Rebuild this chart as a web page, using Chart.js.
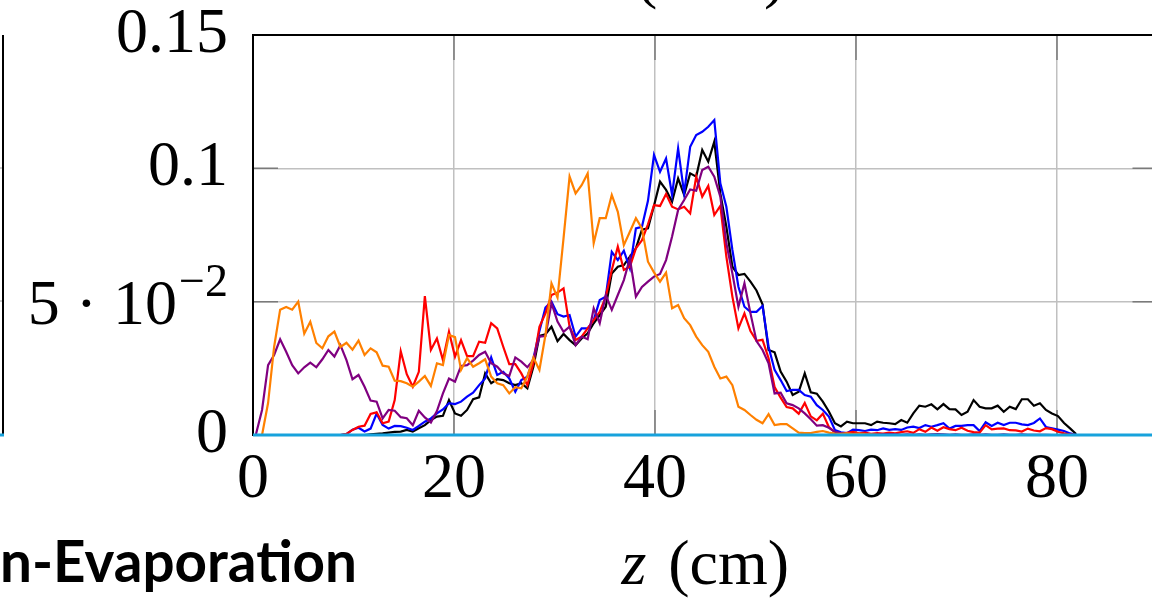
<!DOCTYPE html>
<html>
<head>
<meta charset="utf-8">
<title>z (cm)</title>
<script src="https://cdn.jsdelivr.net/npm/chart.js@4.4.1/dist/chart.umd.min.js"></script>
<style>
  html, body { margin: 0; padding: 0; background: #fff; overflow: hidden; }
  #wrap { position: absolute; left: 0; top: 0; width: 1170px; height: 606px; }
</style>
</head>
<body>
<div id="wrap"><canvas id="chart" width="1170" height="606"></canvas></div>
<script>
// z positions (cm)
const zGrid = [
  0.3, 0.9, 1.5, 2.1, 2.7, 3.3, 3.9, 4.5, 5.1, 5.7,
  6.3, 6.9, 7.5, 8.1, 8.7, 9.3, 9.9, 10.5, 11.1, 11.7,
  12.3, 12.9, 13.5, 14.1, 14.7, 15.3, 15.9, 16.5, 17.1, 17.7,
  18.3, 18.9, 19.5, 20.1, 20.7, 21.3, 21.9, 22.5, 23.1, 23.7,
  24.3, 24.9, 25.5, 26.1, 26.7, 27.3, 27.9, 28.5, 29.1, 29.7,
  30.3, 30.9, 31.5, 32.1, 32.7, 33.3, 33.9, 34.5, 35.1, 35.7,
  36.3, 36.9, 37.5, 38.1, 38.7, 39.3, 39.9, 40.5, 41.1, 41.7,
  42.3, 42.9, 43.5, 44.1, 44.7, 45.3, 45.9, 46.5, 47.1, 47.7,
  48.3, 48.9, 49.5, 50.1, 50.7, 51.3, 51.9, 52.5, 53.1, 53.7,
  54.3, 54.9, 55.5, 56.1, 56.7, 57.3, 57.9, 58.5, 59.1, 59.7,
  60.3, 60.9, 61.5, 62.1, 62.7, 63.3, 63.9, 64.5, 65.1, 65.7,
  66.3, 66.9, 67.5, 68.1, 68.7, 69.3, 69.9, 70.5, 71.1, 71.7,
  72.3, 72.9, 73.5, 74.1, 74.7, 75.3, 75.9, 76.5, 77.1, 77.7,
  78.3, 78.9, 79.5, 80.1, 80.7, 81.3, 81.9
];

const blackVals = [
  0, 0, 0, 0, 0, 0, 0, 0, 0, 0,
  0, 0, 0, 0, 0, 0, 0, 0, 0, 0.0002,
  0.0004, 0.0006, 0.0009, 0.0012, 0.0013, 0.0019, 0.0013, 0.0025, 0.0037, 0.0056,
  0.0069, 0.0072, 0.0131, 0.0081, 0.0072, 0.0094, 0.0134, 0.0141, 0.0231, 0.0194,
  0.0209, 0.0206, 0.0194, 0.0187, 0.0194, 0.0175, 0.0256, 0.0372, 0.0378, 0.0406,
  0.0352, 0.0379, 0.0356, 0.0337, 0.0362, 0.0381, 0.0419, 0.045, 0.0481, 0.0606,
  0.0631, 0.0637, 0.0669, 0.07, 0.077, 0.0775, 0.086, 0.095, 0.0919, 0.0875,
  0.0962, 0.09, 0.0981, 0.0969, 0.1069, 0.1025, 0.11, 0.0906, 0.0781, 0.0631,
  0.06, 0.0604, 0.0575, 0.0542, 0.049, 0.0319, 0.031, 0.0238, 0.02, 0.015,
  0.0162, 0.0231, 0.016, 0.0155, 0.0125, 0.0088, 0.0044, 0.0032, 0.005, 0.0044,
  0.0044, 0.0044, 0.0037, 0.005, 0.0046, 0.0044, 0.0041, 0.0056, 0.0046, 0.0081,
  0.011, 0.0106, 0.0115, 0.0096, 0.0116, 0.0097, 0.0096, 0.0075, 0.0087, 0.0131,
  0.0106, 0.01, 0.01, 0.011, 0.0087, 0.0106, 0.0097, 0.0134, 0.0134, 0.011,
  0.0119, 0.0094, 0.0081, 0.0071, 0.0045, 0.0025, 0.0004
];

const blueVals = [
  0, 0, 0, 0, 0, 0, 0, 0, 0, 0,
  0, 0, 0, 0, 0, 0.0003, 0.002, 0.0027, 0.0013, 0.0024,
  0.008, 0.0038, 0.0024, 0.0034, 0.0033, 0.0027, 0.0019, 0.0034, 0.005, 0.0062,
  0.0081, 0.0096, 0.0119, 0.0116, 0.0125, 0.0144, 0.0159, 0.0187, 0.0212, 0.0291,
  0.0225, 0.0237, 0.0212, 0.0162, 0.0206, 0.0219, 0.0287, 0.039, 0.0478, 0.05,
  0.0453, 0.0444, 0.045, 0.0369, 0.04, 0.04, 0.0431, 0.0506, 0.0519, 0.0687,
  0.0656, 0.0691, 0.0625, 0.0775, 0.0781, 0.0878, 0.105, 0.0987, 0.1037, 0.09,
  0.1075, 0.0906, 0.1081, 0.1125, 0.1137, 0.1156, 0.1181, 0.0944, 0.0856, 0.0694,
  0.0556, 0.0481, 0.0462, 0.0462, 0.0484, 0.0331, 0.0244, 0.0206, 0.0165, 0.0169,
  0.0169, 0.015, 0.0144, 0.0112, 0.0094, 0.0069, 0.0019, 0.001, 0.0007, 0.002,
  0.0018, 0.0015, 0.002, 0.0018, 0.0025, 0.0019, 0.0022, 0.0019, 0.0028, 0.0031,
  0.0026, 0.0037, 0.0031, 0.0037, 0.0044, 0.0024, 0.0034, 0.0034, 0.0037, 0.0037,
  0.0015, 0.0048, 0.0034, 0.0046, 0.0037, 0.0046, 0.0046, 0.004, 0.0037, 0.0045,
  0.0062, 0.003, 0.0025, 0.002, 0.0015, 0.0006, 0
];

const redVals = [
  0, 0, 0, 0, 0, 0, 0, 0, 0, 0,
  0, 0, 0, 0, 0, 0.0004, 0.0019, 0.0031, 0.0035, 0.0079,
  0.0085, 0.0044, 0.005, 0.0131, 0.0314, 0.0228, 0.0181, 0.0237, 0.0521, 0.0319,
  0.0362, 0.0281, 0.0387, 0.0294, 0.0356, 0.0296, 0.0296, 0.035, 0.0346, 0.0419,
  0.04, 0.0331, 0.0266, 0.0266, 0.0231, 0.0187, 0.0269, 0.0406, 0.0456, 0.0525,
  0.0534, 0.055, 0.0406, 0.0356, 0.0369, 0.04, 0.0431, 0.0462, 0.0519, 0.0619,
  0.0706, 0.0619, 0.0631, 0.07, 0.073, 0.079, 0.0862, 0.0859, 0.0904, 0.0856,
  0.0846, 0.0856, 0.0831, 0.0969, 0.0894, 0.0934, 0.0825, 0.0859, 0.0669, 0.0519,
  0.04, 0.0456, 0.039, 0.0353, 0.0357, 0.0288, 0.018, 0.014, 0.0105, 0.01,
  0.008, 0.012, 0.007, 0.0055, 0.008, 0.003, 0.001, 0.0004, 0.0008, 0.0012,
  0.0006, 0.0009, 0.0004, 0.0007, 0.0005, 0.0009, 0.0006, 0.0011, 0.0014, 0.0008,
  0.0022, 0.0012, 0.0028, 0.0016, 0.0029, 0.0022, 0.0018, 0.0027, 0.0016, 0.0011,
  0.0009, 0.0037, 0.0021, 0.0024, 0.0025, 0.0018, 0.0017, 0.0013, 0.0024, 0.0017,
  0.0014, 0.0026, 0.0022, 0.0012, 0.0006, 0.0002, 0
];

const purpleVals = [
  0.0004, 0.0094, 0.0262, 0.03, 0.0359, 0.0312, 0.0262, 0.0231, 0.0254, 0.0271,
  0.0254, 0.0284, 0.0319, 0.0294, 0.0337, 0.0281, 0.0209, 0.0225, 0.0181, 0.0129,
  0.0125, 0.0062, 0.0094, 0.0091, 0.0067, 0.0063, 0.0037, 0.0091, 0.0066, 0.0047,
  0.009, 0.0156, 0.0212, 0.02, 0.0259, 0.0262, 0.0279, 0.03, 0.0312, 0.0269,
  0.0256, 0.0231, 0.0221, 0.0291, 0.0275, 0.0254, 0.0281, 0.0369, 0.0371, 0.0494,
  0.0425, 0.0387, 0.0406, 0.0337, 0.0369, 0.0359, 0.0475, 0.0419, 0.0525, 0.0469,
  0.0525, 0.0581, 0.0662, 0.0519, 0.0555, 0.0575, 0.0594, 0.0604, 0.0656, 0.0744,
  0.0844, 0.0881, 0.0921, 0.0916, 0.0994, 0.1006, 0.0969, 0.0894, 0.0719, 0.0606,
  0.0481, 0.0569, 0.0456, 0.0352, 0.0319, 0.0269, 0.0156, 0.0159, 0.0119, 0.0112,
  0.01, 0.0081, 0.0059, 0.0035, 0.0037, 0.0027, 0.0012, 0.0007, 0.0004, 0.0003,
  0.0002, 0.0003, 0.0002, 0.0001, 0.0002, 0.0003, 0.0002, 0.0001, 0.0002, 0.0001,
  0.0002, 0.0001, 0.0002, 0.0003, 0.0002, 0.0001, 0.0002, 0.0001, 0.0001, 0.0002,
  0.0001, 0.0002, 0.0001, 0.0001, 0.0002, 0.0001, 0.0001, 0.0002, 0.0001, 0.0001,
  0.0001, 0.0001, 0, 0, 0, 0, 0
];

const orangeVals = [
  0, 0, 0.012, 0.033, 0.047, 0.048, 0.047, 0.05, 0.038, 0.0425,
  0.0345, 0.0325, 0.037, 0.0388, 0.033, 0.0346, 0.032, 0.0354, 0.03, 0.0325,
  0.031, 0.026, 0.0256, 0.0204, 0.0202, 0.0194, 0.0181, 0.02, 0.0221, 0.0184,
  0.0269, 0.0262, 0.0375, 0.0367, 0.0244, 0.0288, 0.0256, 0.0269, 0.0284, 0.0219,
  0.0194, 0.0187, 0.0156, 0.0179, 0.0175, 0.0219, 0.0291, 0.0244, 0.0375, 0.0569,
  0.0515, 0.0738, 0.0969, 0.0906, 0.0937, 0.0981, 0.0719, 0.0813, 0.0813, 0.09,
  0.0837, 0.0712, 0.0762, 0.0813, 0.0775, 0.065, 0.061, 0.0575, 0.0609, 0.0475,
  0.0487, 0.0438, 0.0412, 0.0369, 0.0337, 0.0312, 0.0256, 0.0212, 0.0219, 0.0187,
  0.0106, 0.0094, 0.0075, 0.0057, 0.0044, 0.0078, 0.0037, 0.0041, 0.0041, 0.0025,
  0.0009, 0.0007, 0.0007, 0.0012, 0.0015, 0.0009, 0.0005, 0.0004, 0.0006, 0.0003,
  0.0005, 0.0003, 0.0002, 0.0001, 0, 0, 0, 0, 0, 0,
  0, 0, 0, 0, 0, 0, 0, 0, 0, 0,
  0, 0, 0, 0, 0, 0, 0, 0, 0, 0,
  0, 0, 0, 0, 0, 0, 0
];

// the cyan series sits on zero over the whole axis
const cyanZ = [0, 90];
const cyanVals = [0, 0];

const xTicks = [0, 20, 40, 60, 80];
const yTicks = [0, 0.05, 0.1, 0.15];
const yTickLabels = ['0', ['5 \u00b7 10', '\u22122'], '0.1', '0.15'];

const serif = '"Liberation Serif", "DejaVu Serif", serif';

function pts(xs, ys) {
  return ys.map((v, i) => ({ x: xs[i], y: v }));
}

function series(label, xs, ys, color, order) {
  return {
    label: label,
    data: pts(xs, ys),
    borderColor: color,
    borderWidth: 2.2,
    pointRadius: 0,
    tension: 0,
    fill: false,
    order: order
  };
}

// frame, inner tick marks, odd labels and the bits of the neighbouring panel
const decor = {
  id: 'decor',
  beforeDatasetsDraw(chart) {
    const { ctx, chartArea: a, scales: { x, y } } = chart;
    ctx.save();
    ctx.strokeStyle = '#7a7a7a';
    ctx.lineWidth = 1.5;
    ctx.beginPath();
    xTicks.forEach(v => {
      const px = x.getPixelForValue(v);
      ctx.moveTo(px, a.bottom); ctx.lineTo(px, a.bottom - 25);
      ctx.moveTo(px, a.top); ctx.lineTo(px, a.top + 25);
    });
    yTicks.forEach(v => {
      const py = y.getPixelForValue(v);
      ctx.moveTo(a.left, py); ctx.lineTo(a.left + 25, py);
      ctx.moveTo(a.right, py); ctx.lineTo(a.right - 25, py);
    });
    ctx.stroke();
    ctx.strokeStyle = '#000';
    ctx.lineWidth = 2;
    ctx.strokeRect(a.left, a.top, a.right - a.left, a.bottom - a.top);
    ctx.restore();
  },
  afterDraw(chart) {
    const { ctx, chartArea: a, scales: { y } } = chart;
    ctx.save();
    ctx.fillStyle = '#000';

    // 5 . 10^-2
    yTicks.forEach((v, i) => {
      const l = yTickLabels[i];
      if (typeof l === 'string') return;
      const py = y.getPixelForValue(v);
      ctx.font = '64px ' + serif;
      ctx.textBaseline = 'middle';
      ctx.textAlign = 'left';
      const expFont = '46px ' + serif;
      const wb = ctx.measureText(l[0]).width;
      ctx.font = expFont;
      const we = ctx.measureText(l[1]).width;
      const right = a.left - 25;
      ctx.font = '64px ' + serif;
      ctx.fillText(l[0], right - wb - we - 2, py + 6);
      ctx.font = expFont;
      ctx.fillText(l[1], right - we, py - 18);
    });

    // axis title: italic z, roman (cm)
    ctx.textBaseline = 'alphabetic';
    ctx.textAlign = 'left';
    ctx.font = 'italic 64px ' + serif;
    const wz = ctx.measureText('z').width;
    ctx.font = '64px ' + serif;
    const wc = ctx.measureText('(cm)').width;
    const gap = 22;
    const cx = (a.left + a.right) / 2;
    const x0 = cx - (wz + gap + wc) / 2;
    ctx.font = 'italic 64px ' + serif;
    ctx.fillText('z', x0, 584);
    ctx.font = '64px ' + serif;
    ctx.fillText('(cm)', x0 + wz + gap, 584);

    // title of this panel, cut off at the top edge
    ctx.fillText('(', 636, -4);
    ctx.fillText(')', 764, -4);

    // caption of the panel on the left, cut off at the left edge
    ctx.font = 'bold 58px "Lato", "Open Sans", sans-serif';
    const cap = 'n-Evaporation';
    const wcap = ctx.measureText(cap).width;
    ctx.translate(0, 582);
    ctx.scale(357 / wcap, 1);
    ctx.fillText(cap, 0, 0);
    ctx.setTransform(1, 0, 0, 1, 0, 0);

    // right edge of the panel on the left
    ctx.strokeStyle = '#bdbdbd';
    ctx.lineWidth = 1.5;
    ctx.beginPath();
    ctx.moveTo(0, 168); ctx.lineTo(3, 168);
    ctx.moveTo(0, 301); ctx.lineTo(3, 301);
    ctx.stroke();
    ctx.strokeStyle = '#000';
    ctx.lineWidth = 2;
    ctx.beginPath();
    ctx.moveTo(3, 35); ctx.lineTo(3, 435);
    ctx.stroke();
    ctx.strokeStyle = '#17a2dc';
    ctx.lineWidth = 3;
    ctx.beginPath();
    ctx.moveTo(0, 435); ctx.lineTo(4, 435);
    ctx.stroke();
    ctx.restore();
  }
};

const cyanSet = series('cyan', cyanZ, cyanVals, '#17a2dc', 1);
cyanSet.borderWidth = 3;
cyanSet.clip = false;

new Chart(document.getElementById('chart'), {
  type: 'line',
  data: {
    datasets: [
      series('black', zGrid, blackVals, '#000000', 6),
      series('blue', zGrid, blueVals, '#0000ff', 5),
      series('red', zGrid, redVals, '#ff0000', 4),
      series('purple', zGrid, purpleVals, '#800080', 3),
      series('orange', zGrid, orangeVals, '#ff8000', 2),
      cyanSet
    ]
  },
  options: {
    responsive: false,
    animation: false,
    devicePixelRatio: 1,
    layout: { padding: { top: 35, right: 12.5, left: 0, bottom: 0 } },
    plugins: {
      legend: { display: false },
      tooltip: { enabled: false }
    },
    scales: {
      x: {
        type: 'linear',
        min: 0,
        max: 90,
        afterBuildTicks: s => { s.ticks = xTicks.map(v => ({ value: v })); },
        afterFit: s => { s.height = 171; s.paddingLeft = 0; s.paddingRight = 0; },
        grid: { color: '#c0c0c0', lineWidth: 1.5, drawTicks: false },
        border: { display: false },
        ticks: {
          padding: 7,
          maxRotation: 0,
          autoSkip: false,
          color: '#000',
          font: { family: serif, size: 64 },
          callback: v => String(v)
        }
      },
      y: {
        type: 'linear',
        min: 0,
        max: 0.15,
        afterBuildTicks: s => { s.ticks = yTicks.map(v => ({ value: v })); },
        afterFit: s => { s.width = 253; s.paddingTop = 0; s.paddingBottom = 0; },
        grid: { color: '#c0c0c0', lineWidth: 1.5, drawTicks: false },
        border: { display: false },
        ticks: {
          padding: 25,
          autoSkip: false,
          color: '#000',
          font: { family: serif, size: 64 },
          callback: v => {
            const i = yTicks.findIndex(t => Math.abs(t - v) < 1e-9);
            const l = yTickLabels[i];
            return typeof l === 'string' ? l : '';
          }
        }
      }
    }
  },
  plugins: [decor]
});
</script>
</body>
</html>
